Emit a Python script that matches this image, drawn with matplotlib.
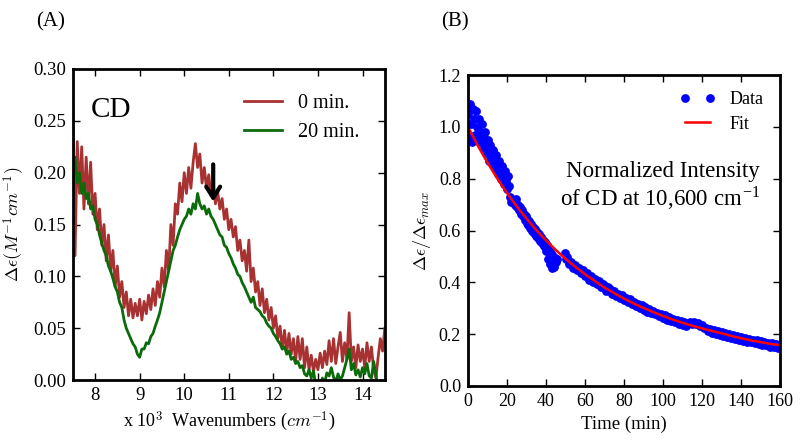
import numpy as np
import matplotlib
matplotlib.use("Agg")
import matplotlib.pyplot as plt

plt.rcParams['font.family'] = ['Liberation Serif', 'DejaVu Serif']
plt.rcParams['mathtext.fontset'] = 'cm'

# ---- panel A: CD spectra (x in 10^3 cm^-1, step 0.05 from 7.5 to 14.5) ----
wn_start, wn_step = 7.5, 0.05
cd_0min = [
    0.27, 0.12, 0.23, 0.18, 0.225, 0.165, 0.215, 0.17, 0.21, 0.16,
    0.18, 0.145, 0.165, 0.13, 0.15, 0.115, 0.14, 0.105, 0.125, 0.09,
    0.11, 0.08, 0.095, 0.07, 0.085, 0.062, 0.078, 0.06, 0.074, 0.062,
    0.078, 0.058, 0.076, 0.064, 0.082, 0.068, 0.088, 0.072, 0.095, 0.08,
    0.108, 0.09, 0.125, 0.105, 0.15, 0.13, 0.17, 0.16, 0.19, 0.172,
    0.20, 0.18, 0.205, 0.185, 0.21, 0.228, 0.205, 0.218, 0.19, 0.205,
    0.185, 0.198, 0.178, 0.19, 0.17, 0.182, 0.165, 0.175, 0.155, 0.165,
    0.145, 0.155, 0.138, 0.148, 0.125, 0.135, 0.115, 0.125, 0.105, 0.135,
    0.095, 0.108, 0.085, 0.095, 0.072, 0.088, 0.065, 0.078, 0.058, 0.07,
    0.05, 0.062, 0.04, 0.052, 0.03, 0.048, 0.026, 0.045, 0.025, 0.04,
    0.018, 0.042, 0.02, 0.04, 0.012, 0.032, 0.01, 0.024, 0.008, 0.02,
    0.01, 0.026, 0.012, 0.028, 0.015, 0.038, 0.018, 0.04, 0.016, 0.032,
    0.046, 0.018, 0.036, 0.02, 0.065, 0.018, 0.032, 0.012, 0.034, 0.018,
    0.03, 0.012, 0.036, 0.018, 0.032, 0.01, 0.002, 0.022, 0.04, 0.028,
    0.05,
]
cd_20min = [
    0.20, 0.215, 0.19, 0.20, 0.18, 0.19, 0.175, 0.18, 0.165, 0.168,
    0.155, 0.15, 0.14, 0.132, 0.125, 0.12, 0.11, 0.105, 0.098, 0.09,
    0.085, 0.075, 0.07, 0.058, 0.05, 0.045, 0.04, 0.035, 0.032, 0.025,
    0.022, 0.03, 0.03, 0.036, 0.035, 0.042, 0.045, 0.052, 0.058, 0.065,
    0.075, 0.085, 0.095, 0.105, 0.115, 0.125, 0.13, 0.138, 0.145, 0.15,
    0.155, 0.158, 0.165, 0.16, 0.17, 0.165, 0.18, 0.17, 0.165, 0.168,
    0.16, 0.165, 0.158, 0.155, 0.15, 0.145, 0.14, 0.138, 0.13, 0.128,
    0.122, 0.118, 0.112, 0.108, 0.102, 0.10, 0.094, 0.09, 0.085, 0.08,
    0.075, 0.08, 0.07, 0.068, 0.066, 0.062, 0.06, 0.055, 0.052, 0.05,
    0.045, 0.042, 0.038, 0.035, 0.03, 0.032, 0.025, 0.028, 0.02, 0.022,
    0.016, 0.018, 0.012, 0.014, 0.006, 0.004, 0.01, 0.002, 0.009, -0.005,
    -0.004, -0.006, 0.002, -0.003, 0.007, 0.004, 0.012, 0.003, -0.002, 0.006,
    0.0, 0.004, 0.012, 0.02, 0.03, 0.01, 0.016, 0.005, 0.01, 0.003,
    0.012, 0.006, 0.016, 0.004, 0.002, 0.018, 0.006, -0.01, -0.01, -0.01,
    -0.01,
]
wavenumber = wn_start + wn_step * np.arange(len(cd_0min))

# ---- panel B: normalized intensity vs time ----
# 0..50 min sampled every 0.5 min (nan = no point), 51..160 every 1 min
norm_early = [
    1.05, 0.96, 1.09, 1.01, 0.94, 1.07, 1.03, 0.97, 1.06, 1.00,
    0.95, 1.03, 0.98, 0.94, 1.01, 0.96, 0.92, 0.98, 0.94, 0.90,
    0.95, 0.91, 0.87, 0.93, 0.89, 0.86, 0.91, 0.87, 0.84, 0.89,
    0.85, 0.82, 0.87, 0.83, 0.80, 0.85, 0.81, 0.78, 0.83, 0.79,
    0.76, 0.81, 0.77, 0.73, 0.71, np.nan, np.nan, 0.715, 0.70, 0.72,
    0.69, 0.70, 0.68, 0.69, 0.665, 0.68, 0.655, 0.665, 0.64, 0.655,
    0.63, 0.645, 0.62, 0.635, 0.61, 0.625, 0.60, 0.615, 0.59, 0.605,
    0.58, 0.595, 0.57, 0.585, 0.56, 0.575, 0.55, 0.565, 0.54, 0.555,
    0.52, 0.545, 0.49, 0.53, 0.47, 0.515, 0.455, 0.50, 0.46, 0.495,
    0.48, 0.49, np.nan, np.nan, np.nan, np.nan, np.nan, np.nan, np.nan, 0.513,
    0.49,
]
norm_late = [
    0.497, 0.470, 0.478, 0.455, 0.468, 0.446, 0.456, 0.434, 0.447, 0.424,
    0.436, 0.410, 0.423, 0.401, 0.414, 0.392, 0.405, 0.382, 0.395, 0.386,
    0.368, 0.380, 0.376, 0.356, 0.366, 0.346, 0.356, 0.338, 0.349, 0.330,
    0.340, 0.322, 0.334, 0.315, 0.325, 0.308, 0.318, 0.300, 0.311, 0.294,
    0.304, 0.286, 0.297, 0.281, 0.291, 0.276, 0.283, 0.268, 0.279, 0.262,
    0.272, 0.256, 0.266, 0.251, 0.260, 0.246, 0.254, 0.240, 0.250, 0.236,
    0.245, 0.232, 0.242, 0.246, 0.240, 0.248, 0.238, 0.244, 0.232, 0.236,
    0.224, 0.224, 0.212, 0.219, 0.206, 0.215, 0.202, 0.211, 0.198, 0.208,
    0.194, 0.204, 0.190, 0.200, 0.186, 0.196, 0.182, 0.191, 0.179, 0.188,
    0.175, 0.185, 0.171, 0.182, 0.168, 0.179, 0.165, 0.176, 0.162, 0.172,
    0.158, 0.170, 0.156, 0.167, 0.152, 0.164, 0.150, 0.162, 0.148, 0.158,
]
time_data = np.concatenate([0.5 * np.arange(len(norm_early)),
                            51 + np.arange(len(norm_late))])
norm_data = np.array(norm_early + norm_late)

# fit curve, every 5 min
fit_values = [
    1.000, 0.928, 0.862, 0.801, 0.745, 0.693, 0.646, 0.602, 0.562, 0.525,
    0.491, 0.460, 0.431, 0.405, 0.380, 0.358, 0.337, 0.318, 0.301, 0.285,
    0.270, 0.256, 0.244, 0.232, 0.222, 0.212, 0.203, 0.193, 0.184, 0.176,
    0.169, 0.162, 0.157,
]
fit_time = 5 * np.arange(len(fit_values))

fig = plt.figure(figsize=(8, 4.42), dpi=100)
axA = fig.add_axes([0.091, 0.140, 0.390, 0.704])
axB = fig.add_axes([0.585, 0.127, 0.390, 0.703])

for ax in (axA, axB):
    ax.tick_params(direction='in', top=True, right=True, length=5, width=1,
                   labelsize=13.5, pad=5)
    for sp in ax.spines.values():
        sp.set_linewidth(2)
axB.tick_params(labelsize=13)

# panel A
axA.plot(wavenumber, cd_0min, color='#a83232', lw=2, label='0 min.')
axA.plot(wavenumber, cd_20min, color='#0b6b0b', lw=2, label='20 min.')
axA.set_xlim(7.5, 14.5)
axA.set_ylim(0, 0.30)
axA.set_xticks(range(8, 15))
axA.set_yticks(np.arange(0, 0.301, 0.05))
axA.yaxis.set_major_formatter(matplotlib.ticker.FormatStrFormatter('%.2f'))
axA.set_xlabel(r'x 10$^3$  Wavenumbers ($cm^{-1}$)', fontsize=13)
axA.set_ylabel(r'$\Delta\epsilon(M^{-1}cm^{-1})$', fontsize=13)
axA.legend(loc='upper right', frameon=False, fontsize=14.5,
           handlelength=1.9, borderaxespad=0.85, labelspacing=0.5)
axA.text(0.058, 0.868, 'CD', transform=axA.transAxes, fontsize=21,
         va='center', ha='left')
axA.annotate('', xy=(10.65, 0.172), xytext=(10.65, 0.208),
             arrowprops=dict(arrowstyle='->,head_length=0.8,head_width=0.5',
                             lw=3, color='black', shrinkA=0, shrinkB=0))
fig.text(0.063, 0.950, '(A)', fontsize=15, ha='center', va='center')

# panel B
axB.plot(time_data, norm_data, 'o', color='#0000ff', mec='#0000ff', ms=5.3,
         label='Data')
axB.plot(fit_time, fit_values, color='red', lw=1.8, label='Fit')
axB.set_xlim(0, 160)
axB.set_ylim(0, 1.2)
axB.set_xticks(range(0, 161, 20))
axB.set_yticks(np.arange(0, 1.21, 0.2))
axB.yaxis.set_major_formatter(matplotlib.ticker.FormatStrFormatter('%.1f'))
axB.set_xlabel('Time (min)', fontsize=13.5)
axB.set_ylabel(r'$\Delta\epsilon/\Delta\epsilon_{max}$', fontsize=13)
axB.legend(loc='upper right', frameon=False, fontsize=13, numpoints=2,
           handlelength=2.0, borderaxespad=0.5, labelspacing=0.4)
axB.text(0.936, 0.64, 'Normalized Intensity\nof CD at 10,600 cm$^{\\mathregular{-1}}$',
         transform=axB.transAxes, fontsize=16.5, ha='right', va='center',
         linespacing=1.1)
fig.text(0.569, 0.950, '(B)', fontsize=15, ha='center', va='center')

fig.savefig('out.png', dpi=100)
